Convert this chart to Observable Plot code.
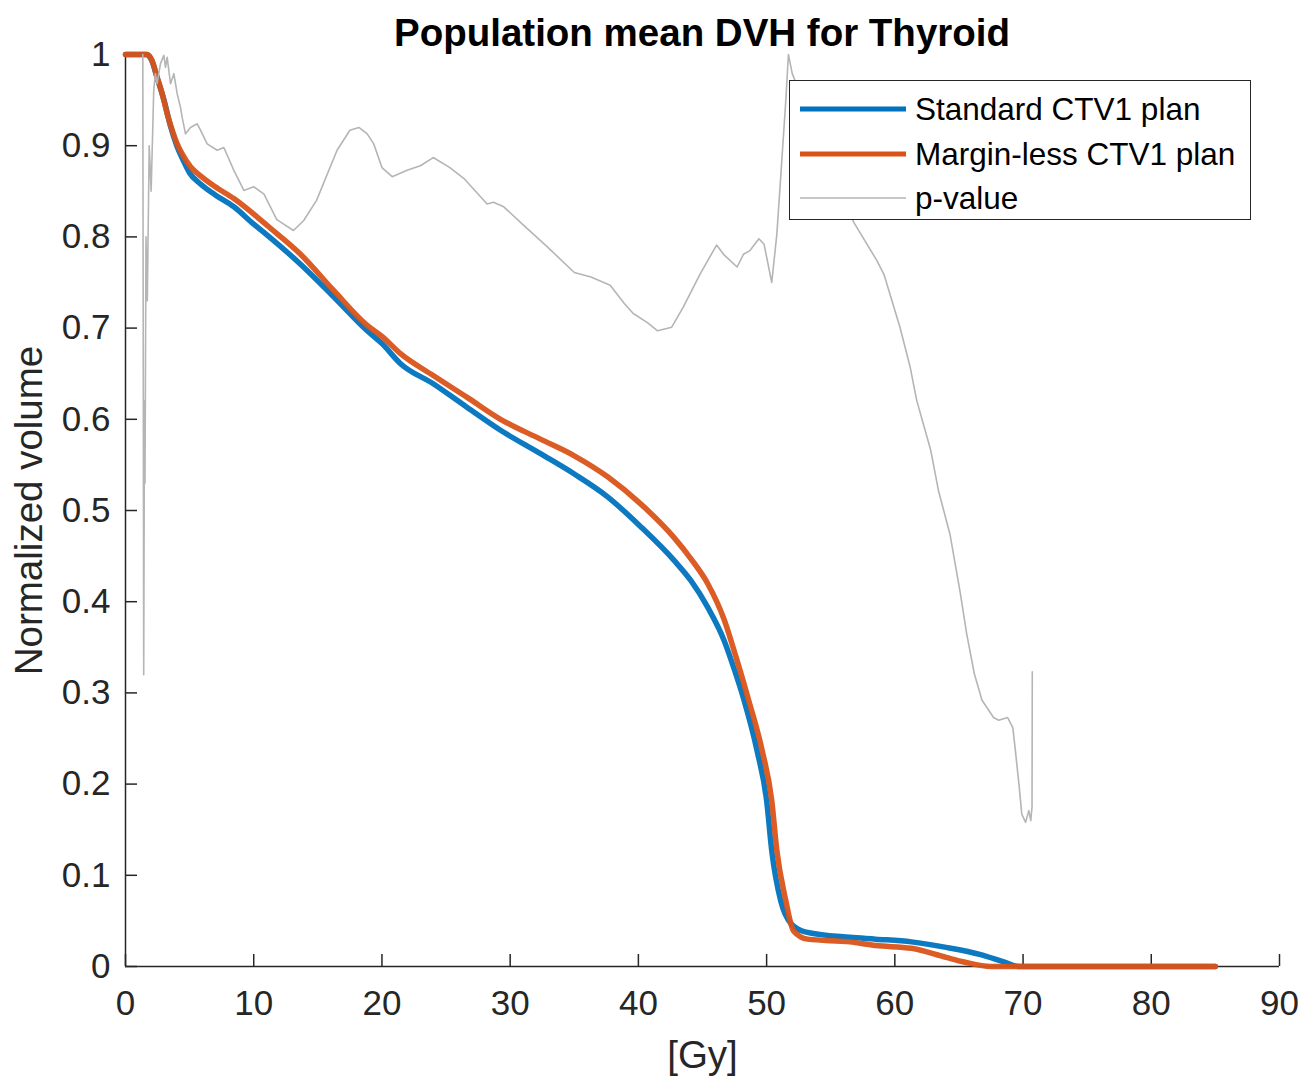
<!DOCTYPE html>
<html>
<head>
<meta charset="utf-8">
<script src="https://cdn.jsdelivr.net/npm/d3@7"></script>
<script src="https://cdn.jsdelivr.net/npm/@observablehq/plot@0.6"></script>
<style>
  html, body { margin: 0; padding: 0; background: #fff; }
  #wrap { position: relative; width: 1305px; height: 1077px; font-family: "Liberation Sans", Arial, sans-serif; color: #000; }
  #title { height: 50px; box-sizing: border-box; padding-top: 14px; margin-left: 125px; width: 1154px; text-align: center; font-weight: bold; font-size: 38.5px; line-height: 1; }
  #chart svg { display: block; }
  #legend { position: absolute; left: 789px; top: 80px; width: 462px; height: 140px; box-sizing: border-box; border: 1.5px solid #262626; background: #fff; }
  .lrow { position: absolute; left: 0; width: 100%; height: 40px; }
  .lrow svg { position: absolute; left: 10px; top: 0; }
  .lrow span { position: absolute; left: 125px; top: 0; line-height: 40px; font-size: 31.5px; white-space: nowrap; color: #000; }
</style>
</head>
<body>
<div id="wrap">
  <div id="title"></div>
  <div id="chart"></div>
  <div id="legend"></div>
</div>
<script>
// ---- Text ----
const titleText = "Population mean DVH for Thyroid";
const xLabel = "[Gy]";
const yLabel = "Normalized volume";
const seriesNames = ["Standard CTV1 plan", "Margin-less CTV1 plan", "p-value"];
const seriesColors = ["#0072BD", "#D95319", "#b5b5b5"];
const seriesWidths = [5.5, 5.5, 1.6];

// ---- Ticks ----
const xTicks = [0, 10, 20, 30, 40, 50, 60, 70, 80, 90];
const yTicks = [0, 0.1, 0.2, 0.3, 0.4, 0.5, 0.6, 0.7, 0.8, 0.9, 1];
const yTickLabels = ["0", "0.1", "0.2", "0.3", "0.4", "0.5", "0.6", "0.7", "0.8", "0.9", "1"];

// ---- Standard CTV1 plan (blue) ----
const doseStandard = [0, 1.6, 2.0, 2.5, 3.0, 3.5, 4.0, 4.5, 5.0, 5.85, 7.0, 8.45, 10.0, 11.05, 13.65, 16.25, 18.85, 20.0, 21.45, 24.0, 26.65, 29.25, 32.4, 35.0, 37.6, 40.2, 42.8, 44.1, 45.4, 46.7, 47.5, 48.2, 49.25, 50.0, 50.4, 51.1, 51.9, 53.0, 56.5, 58.5, 61.3, 64.0, 66.7, 68.5, 69.7, 85];
const volStandard  = [1.0, 1.0, 0.995, 0.973, 0.950, 0.922, 0.900, 0.884, 0.870, 0.858, 0.846, 0.833, 0.814, 0.802, 0.770, 0.734, 0.697, 0.683, 0.661, 0.639, 0.613, 0.588, 0.562, 0.540, 0.515, 0.482, 0.445, 0.423, 0.394, 0.357, 0.325, 0.294, 0.237, 0.182, 0.127, 0.072, 0.047, 0.038, 0.032, 0.030, 0.027, 0.021, 0.013, 0.005, 0.0, 0.0];

// ---- Margin-less CTV1 plan (orange) ----
const doseMarginless = [0, 1.7, 2.08, 2.47, 2.86, 3.25, 3.64, 4.03, 4.42, 5.07, 5.85, 7.0, 8.45, 10.0, 11.05, 13.65, 16.25, 18.85, 20.0, 21.45, 24.0, 26.65, 29.25, 32.4, 35.0, 37.6, 40.2, 42.8, 44.1, 45.4, 46.7, 47.6, 48.6, 49.65, 50.4, 50.8, 51.5, 52.1, 53.2, 56.5, 58.5, 61.3, 64.0, 65.4, 67.5, 85];
const volMarginless  = [1.0, 1.0, 0.993, 0.975, 0.957, 0.935, 0.917, 0.902, 0.891, 0.877, 0.867, 0.855, 0.842, 0.825, 0.8125, 0.781, 0.741, 0.703, 0.691, 0.672, 0.648, 0.624, 0.600, 0.578, 0.560, 0.537, 0.507, 0.470, 0.447, 0.420, 0.380, 0.340, 0.292, 0.237, 0.182, 0.127, 0.072, 0.039, 0.030, 0.027, 0.023, 0.020, 0.010, 0.005, 0.0, 0.0];

// ---- p-value (gray) ----
const dosePvalue = [1.35, 1.42, 1.48, 1.52, 1.6, 1.7, 1.85, 2.0, 2.2, 2.33, 2.46, 2.73, 2.99, 3.12, 3.25, 3.51, 3.77, 4.03, 4.29, 4.42, 4.68, 5.07, 5.59, 5.85, 6.37, 7.15, 7.67, 8.45, 9.23, 10.0, 10.8, 11.8, 13.1, 13.9, 14.9, 16.5, 17.5, 18.2, 18.85, 19.36, 20.0, 20.8, 21.96, 23.0, 24.0, 25.3, 26.4, 28.2, 28.7, 29.5, 31.1, 32.9, 35.0, 36.3, 37.8, 38.9, 39.6, 40.7, 41.5, 42.6, 43.5, 44.8, 46.1, 46.7, 47.7, 48.2, 48.7, 49.4, 49.8, 50.4, 50.8, 51.5, 51.7, 52.0, 54.5, 56.8, 58.6, 59.15, 60.4, 61.2, 61.7, 62.8, 63.4, 64.3, 65.1, 65.6, 66.2, 66.8, 67.7, 68.1, 68.8, 69.2, 69.4, 69.7, 69.9, 70.2, 70.45, 70.6, 70.7, 70.72];
const pvalue     = [1.0, 0.32, 0.62, 0.53, 0.80, 0.73, 0.90, 0.85, 0.96, 0.979, 0.968, 0.990, 0.999, 0.986, 0.997, 0.968, 0.979, 0.957, 0.942, 0.931, 0.913, 0.920, 0.924, 0.917, 0.902, 0.895, 0.898, 0.873, 0.851, 0.855, 0.847, 0.819, 0.807, 0.818, 0.840, 0.895, 0.917, 0.920, 0.913, 0.902, 0.876, 0.866, 0.873, 0.878, 0.887, 0.876, 0.864, 0.836, 0.838, 0.833, 0.812, 0.789, 0.761, 0.756, 0.747, 0.727, 0.716, 0.706, 0.697, 0.701, 0.723, 0.759, 0.791, 0.780, 0.767, 0.781, 0.785, 0.798, 0.792, 0.750, 0.803, 0.950, 1.0, 0.979, 0.890, 0.816, 0.774, 0.759, 0.701, 0.657, 0.621, 0.566, 0.522, 0.474, 0.410, 0.365, 0.321, 0.292, 0.273, 0.270, 0.273, 0.262, 0.237, 0.197, 0.167, 0.158, 0.171, 0.160, 0.175, 0.323];

// ---- build rows ----
const rowsStd = doseStandard.map((d, i) => ({dose: d, v: volStandard[i]}));
const rowsMl = doseMarginless.map((d, i) => ({dose: d, v: volMarginless[i]}));
const rowsP = dosePvalue.map((d, i) => ({dose: d, v: pvalue[i]}));

document.getElementById("title").textContent = titleText;

const axisColor = "#262626";
const chart = Plot.plot({
  width: 1305,
  height: 1027,
  marginLeft: 125,
  marginRight: 26,
  marginTop: 4,
  marginBottom: 111,
  style: {fontFamily: '"Liberation Sans", Arial, sans-serif', fontSize: "35px", color: axisColor, background: "white", overflow: "visible"},
  x: {domain: [0, 90]},
  y: {domain: [0, 1]},
  marks: [
    Plot.ruleY([0], {stroke: axisColor, strokeWidth: 1.5}),
    Plot.ruleX([0], {stroke: axisColor, strokeWidth: 1.5}),
    Plot.axisX({ticks: xTicks, tickSize: 12, dy: -12, tickPadding: 24, label: null, stroke: axisColor, strokeWidth: 1.5, fill: axisColor, fontSize: 35}),
    Plot.axisY({ticks: yTicks, tickSize: 12, dx: 12, tickPadding: 15, label: null, tickFormat: (d) => yTickLabels[yTicks.findIndex(t => Math.abs(t - d) < 1e-9)], stroke: axisColor, strokeWidth: 1.5, fill: axisColor, fontSize: 35}),
    Plot.line(rowsStd, {x: "dose", y: "v", stroke: seriesColors[0], strokeWidth: seriesWidths[0], curve: "monotone-x", strokeOpacity: 0.95}),
    Plot.line(rowsMl, {x: "dose", y: "v", stroke: seriesColors[1], strokeWidth: seriesWidths[1], curve: "monotone-x", strokeOpacity: 0.95}),
    Plot.line(rowsP, {x: "dose", y: "v", stroke: seriesColors[2], strokeWidth: seriesWidths[2], curve: "linear"}),
    Plot.text([yLabel], {text: d => d, frameAnchor: "left", rotate: -90, dx: -96, lineAnchor: "middle", textAnchor: "middle", fontSize: 38.5, fill: axisColor}),
    Plot.text([xLabel], {text: d => d, frameAnchor: "bottom", dy: 89, lineAnchor: "middle", textAnchor: "middle", fontSize: 38.5, fill: axisColor})
  ]
});
document.getElementById("chart").appendChild(chart);

// ---- legend ----
const legend = document.getElementById("legend");
const rowTops = [8, 53, 97];
seriesNames.forEach((name, i) => {
  const row = document.createElement("div");
  row.className = "lrow";
  row.style.top = rowTops[i] + "px";
  const ns = "http://www.w3.org/2000/svg";
  const s = document.createElementNS(ns, "svg");
  s.setAttribute("width", "108");
  s.setAttribute("height", "40");
  const ln = document.createElementNS(ns, "line");
  ln.setAttribute("x1", "0"); ln.setAttribute("x2", "106");
  ln.setAttribute("y1", "20"); ln.setAttribute("y2", "20");
  ln.setAttribute("stroke", seriesColors[i]);
  ln.setAttribute("stroke-width", i < 2 ? "5" : "1.6");
  s.appendChild(ln);
  const t = document.createElement("span");
  t.textContent = name;
  row.appendChild(s);
  row.appendChild(t);
  legend.appendChild(row);
});
</script>
</body>
</html>
